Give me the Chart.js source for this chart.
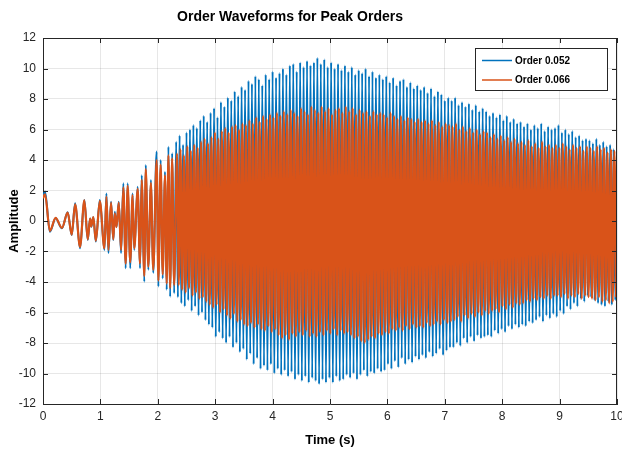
<!DOCTYPE html>
<html>
<head>
<meta charset="utf-8">
<script src="https://cdn.jsdelivr.net/npm/chart.js@4.4.1/dist/chart.umd.min.js"></script>
<style>
  html, body { margin: 0; padding: 0; background: #fff; }
</style>
</head>
<body>
<canvas id="orderChart" width="622" height="451"></canvas>
<script>
const seriesLabels = ['Order 0.052', 'Order 0.066'];
const xTicks = [0, 1, 2, 3, 4, 5, 6, 7, 8, 9, 10];
const yTicks = [-12, -10, -8, -6, -4, -2, 0, 2, 4, 6, 8, 10, 12];

// run-up: peaks and troughs that can still be told apart (s)
const onsetTimes = [
  0, 0.035, 0.12, 0.22, 0.33, 0.43, 0.5, 0.56, 0.645, 0.72,
  0.78, 0.82, 0.84, 0.877, 0.92, 0.99, 1.07, 1.105, 1.14, 1.185,
  1.225, 1.25, 1.28, 1.32, 1.36, 1.4, 1.44, 1.475, 1.52, 1.56,
  1.59, 1.65, 1.69, 1.72, 1.765, 1.79, 1.835, 1.88, 1.92, 1.98,
  2.01, 2.05, 2.085, 2.125, 2.155, 2.185, 2.215, 2.25, 2.285
];
const onset052 = [
  1.6, 1.93, -0.7, 0.18, -0.48, 0.57, -0.92, 1.16, -1.79, 1.38,
  -1.24, 0.17, -0.37, 0.24, -1.35, 1.38, -1.9, 1.81, -2.1, 1.27,
  -1.25, 0.6, -0.4, 1.27, -2.1, 2.47, -3.1, 2.47, -3.1, 1.81,
  -1.9, 2.25, -3.1, 3.0, -3.98, 3.67, -3.2, 2.69, -3.4, 4.55,
  -4.3, 4.0, -3.77, 3.23, -4.5, 4.87, -4.96, 4.44, -4.74
];
const onset066 = [
  1.5, 1.75, -0.65, 0.2, -0.45, 0.55, -0.9, 1.1, -1.7, 1.35,
  -1.2, 0.15, -0.35, 0.25, -1.3, 1.3, -1.8, 1.6, -1.9, 1.2,
  -1.2, 0.5, -0.4, 1.2, -1.9, 2.2, -2.8, 2.3, -2.7, 1.7,
  -1.8, 2.1, -2.8, 2.7, -3.6, 3.4, -3.0, 2.5, -3.2, 4.0,
  -3.9, 3.7, -3.5, 3.0, -4.1, 4.3, -4.4, 4.1, -4.2
];

// after the run-up: one peak or trough every 0.03 s
const sampleStep = 0.03;
const start052 = 2.32;
const start066 = 2.335;
const order052 = [
  5.2, -5.0, 5.6, -5.4, 5.0, -5.6, 5.8, -5.2, 6.0, -5.9, 6.3, -5.6, 6.1, -6.2, 6.6, -6.0, 6.9, -6.5, 6.5, -6.8,
  7.1, -7.0, 7.4, -7.6, 6.8, -7.3, 7.8, -7.7, 7.5, -8.0, 8.1, -7.6, 7.9, -8.3, 8.5, -8.0, 8.2, -8.6, 8.8, -8.4,
  8.6, -9.1, 9.2, -8.7, 9.0, -9.4, 9.5, -9.0, 9.3, -9.7, 8.9, -9.5, 9.6, -9.8, 9.3, -9.4, 9.8, -10.0, 9.4, -9.7,
  9.7, -10.1, 10.0, -9.8, 9.6, -10.2, 10.2, -9.9, 10.3, -10.4, 9.8, -10.1, 10.4, -10.5, 10.1, -10.2, 10.5, -10.6, 10.2, -10.3,
  10.4, -10.5, 10.7, -10.7, 10.3, -10.4, 10.6, -10.6, 10.1, -10.3, 10.4, -10.6, 10.0, -10.2, 10.3, -10.5, 9.9, -10.4, 10.2, -10.1,
  9.8, -10.3, 10.1, -10.0, 9.6, -10.4, 9.9, -10.1, 9.7, -9.8, 10.0, -10.2, 9.5, -9.9, 9.8, -10.0, 9.4, -9.7, 9.6, -9.9,
  9.3, -9.8, 9.5, -9.4, 9.1, -9.7, 9.4, -9.2, 8.9, -9.6, 9.2, -9.0, 9.3, -9.4, 8.8, -9.1, 9.1, -9.3, 8.7, -8.9,
  8.9, -9.1, 8.6, -8.8, 8.8, -9.0, 8.4, -8.6, 8.7, -8.9, 8.2, -8.7, 8.5, -8.4, 8.3, -8.8, 7.9, -8.5, 8.1, -8.3,
  7.9, -8.3, 8.1, -8.0, 7.6, -8.2, 7.8, -7.7, 7.5, -8.0, 7.7, -7.6, 7.3, -7.9, 7.6, -7.5, 7.2, -7.7, 7.4, -7.6,
  7.2, -7.5, 6.9, -7.6, 7.1, -7.2, 6.8, -7.4, 7.0, -7.1, 6.6, -7.3, 6.9, -6.9, 6.5, -7.1, 6.7, -6.8, 6.4, -7.0,
  6.5, -6.8, 6.2, -6.9, 6.4, -6.6, 6.0, -6.7, 6.3, -6.5, 6.1, -6.3, 6.4, -6.6, 5.9, -6.2, 6.2, -6.4, 6.0, -6.1,
  6.1, -6.3, 6.3, -5.9, 5.8, -6.1, 6.0, -5.6, 5.7, -5.8, 5.9, -5.4, 5.5, -5.6, 5.6, -5.1, 5.3, -5.3, 5.4, -4.9,
  5.3, -5.0, 5.1, -5.2, 5.4, -5.4, 5.0, -5.5, 5.2, -5.6, 4.9, -5.3, 5.0, -5.5, 4.7, -5.2, 4.4
];
const order066 = [
  4.4, -4.2, 4.7, -4.5, 4.3, -4.7, 4.9, -4.4, 4.6, -4.9, 5.0, -4.7, 4.8, -5.1, 5.2, -5.0, 5.4, -5.3, 5.1, -5.5,
  5.5, -5.7, 5.8, -5.5, 5.4, -6.0, 5.9, -5.8, 6.1, -6.2, 5.8, -6.4, 6.2, -6.1, 6.3, -6.6, 6.0, -6.5, 6.4, -6.8,
  6.3, -6.9, 6.6, -6.7, 6.4, -7.0, 6.8, -6.8, 6.5, -7.1, 6.9, -7.2, 6.7, -6.9, 7.0, -7.3, 6.8, -7.1, 7.1, -7.5,
  6.9, -7.7, 7.2, -7.5, 7.0, -7.8, 7.3, -7.4, 7.1, -7.6, 6.9, -7.3, 7.4, -7.5, 7.2, -7.2, 7.0, -7.6, 7.5, -7.4,
  7.3, -7.6, 7.1, -7.3, 7.5, -7.5, 7.2, -7.2, 7.4, -7.4, 7.0, -7.1, 7.3, -7.5, 7.4, -7.2, 7.1, -7.4, 7.5, -7.3,
  7.2, -7.5, 7.4, -7.7, 7.0, -7.6, 7.3, -7.9, 7.1, -8.0, 7.2, -7.8, 6.9, -7.6, 7.2, -7.7, 7.0, -7.4, 7.1, -7.5,
  7.0, -7.3, 6.8, -7.4, 7.1, -7.1, 6.9, -7.2, 6.7, -7.0, 6.9, -7.2, 6.6, -6.9, 6.8, -7.1, 6.7, -6.8, 6.5, -7.0,
  6.7, -6.9, 6.5, -7.0, 6.6, -6.7, 6.4, -6.9, 6.6, -6.8, 6.3, -6.6, 6.5, -6.8, 6.2, -6.5, 6.4, -6.7, 6.3, -6.6,
  6.2, -6.5, 6.4, -6.3, 6.0, -6.6, 6.2, -6.2, 5.9, -6.4, 6.1, -6.1, 5.8, -6.3, 6.0, -6.0, 5.7, -6.2, 5.9, -5.9,
  5.8, -6.1, 5.5, -5.9, 5.7, -5.8, 5.4, -6.0, 5.6, -5.6, 5.3, -5.8, 5.5, -5.5, 5.2, -5.7, 5.4, -5.4, 5.1, -5.5,
  5.2, -5.4, 5.0, -5.2, 5.3, -5.3, 4.9, -5.1, 5.1, -5.2, 4.8, -5.0, 5.2, -5.1, 4.9, -4.9, 5.0, -5.1, 4.8, -4.9,
  5.0, -4.9, 4.8, -5.0, 5.1, -4.8, 4.9, -5.1, 4.7, -4.9, 5.0, -5.0, 4.8, -4.8, 4.9, -5.1, 4.6, -4.9, 4.9, -5.0,
  4.8, -5.1, 4.6, -5.2, 4.9, -5.0, 4.7, -5.3, 4.8, -5.2, 4.5, -5.4, 4.7, -5.3, 4.6, -5.0
];

const blue = '#0072BD';
const orange = '#D95319';
const axisColor = '#262626';
const gridColor = 'rgba(38, 38, 38, 0.11)';
const fontFamily = "'Liberation Sans', Arial, Helvetica, sans-serif";
const tickLen = 5;

function toPoints(times, values) {
  return times.map((t, i) => ({ x: t, y: values[i] }));
}
function sampled(start, values) {
  return values.map((v, i) => ({ x: +(start + i * sampleStep).toFixed(3), y: v }));
}

const pts052 = toPoints(onsetTimes, onset052).concat(sampled(start052, order052));
const pts066 = toPoints(onsetTimes, onset066).concat(sampled(start066, order066));

// box edges, inward ticks, legend and title
const frame = {
  id: 'frame',
  afterDraw(chart) {
    const { ctx, chartArea: a, scales: { x, y } } = chart;
    ctx.save();
    ctx.strokeStyle = axisColor;
    ctx.lineWidth = 1;
    ctx.beginPath();
    ctx.moveTo(a.left, a.top + 0.5); ctx.lineTo(a.right, a.top + 0.5);
    ctx.moveTo(a.right - 0.5, a.top); ctx.lineTo(a.right - 0.5, a.bottom);
    xTicks.forEach(v => {
      const px = Math.round(x.getPixelForValue(v)) + 0.5;
      ctx.moveTo(px, a.bottom); ctx.lineTo(px, a.bottom - tickLen);
      ctx.moveTo(px, a.top); ctx.lineTo(px, a.top + tickLen);
    });
    yTicks.forEach(v => {
      const py = Math.round(y.getPixelForValue(v)) + 0.5;
      ctx.moveTo(a.left, py); ctx.lineTo(a.left + tickLen, py);
      ctx.moveTo(a.right, py); ctx.lineTo(a.right - tickLen, py);
    });
    ctx.stroke();

    const lx = 475, ly = 48, lw = 132, lh = 42;
    ctx.fillStyle = '#fff';
    ctx.fillRect(lx, ly, lw, lh);
    ctx.strokeRect(lx + 0.5, ly + 0.5, lw, lh);
    ctx.font = 'bold 10px ' + fontFamily;
    ctx.textBaseline = 'middle';
    chart.data.datasets.forEach((ds, i) => {
      const yy = ly + 12.5 + i * 19.5;
      ctx.strokeStyle = ds.borderColor;
      ctx.lineWidth = 1.5;
      ctx.beginPath();
      ctx.moveTo(lx + 7, yy); ctx.lineTo(lx + 37, yy);
      ctx.stroke();
      ctx.fillStyle = '#000';
      ctx.fillText(ds.label, lx + 40, yy + 0.5);
    });

    ctx.font = 'bold 14px ' + fontFamily;
    ctx.textAlign = 'center';
    ctx.fillStyle = '#000';
    ctx.fillText('Order Waveforms for Peak Orders', 290, 17);
    ctx.restore();
  }
};

new Chart(document.getElementById('orderChart'), {
  type: 'line',
  data: {
    datasets: [
      { label: seriesLabels[0], data: pts052, borderColor: blue, borderWidth: 2,
        pointRadius: 0, cubicInterpolationMode: 'monotone', order: 1 },
      { label: seriesLabels[1], data: pts066, borderColor: orange, borderWidth: 2.2,
        pointRadius: 0, cubicInterpolationMode: 'monotone', order: 0 }
    ]
  },
  options: {
    responsive: false,
    animation: false,
    events: [],
    layout: { padding: { top: 38, right: 5, left: 0, bottom: 0 } },
    plugins: { legend: { display: false }, tooltip: { enabled: false }, title: { display: false } },
    scales: {
      x: {
        type: 'linear', min: 0, max: 10,
        afterBuildTicks: s => { s.ticks = xTicks.map(v => ({ value: v })); },
        afterFit: s => { s.height = 47; s.paddingLeft = 0; s.paddingRight = 0; },
        grid: { color: gridColor, drawTicks: false },
        border: { color: axisColor },
        ticks: { color: axisColor, padding: 5, maxRotation: 0, font: { family: fontFamily, size: 12 } },
        title: { display: true, text: 'Time (s)', color: '#000', padding: { top: 0, bottom: 3 },
          font: { family: fontFamily, size: 13, weight: 'bold' } }
      },
      y: {
        type: 'linear', min: -12, max: 12,
        afterBuildTicks: s => { s.ticks = yTicks.map(v => ({ value: v })); },
        afterFit: s => { s.width = 43; s.paddingTop = 0; s.paddingBottom = 0; },
        grid: { color: gridColor, drawTicks: false },
        border: { color: axisColor },
        ticks: { color: axisColor, padding: 7, font: { family: fontFamily, size: 12 } },
        title: { display: true, text: 'Amplitude', color: '#000', padding: { top: 7, bottom: 0 },
          font: { family: fontFamily, size: 13, weight: 'bold' } }
      }
    }
  },
  plugins: [frame]
});
</script>
</body>
</html>
